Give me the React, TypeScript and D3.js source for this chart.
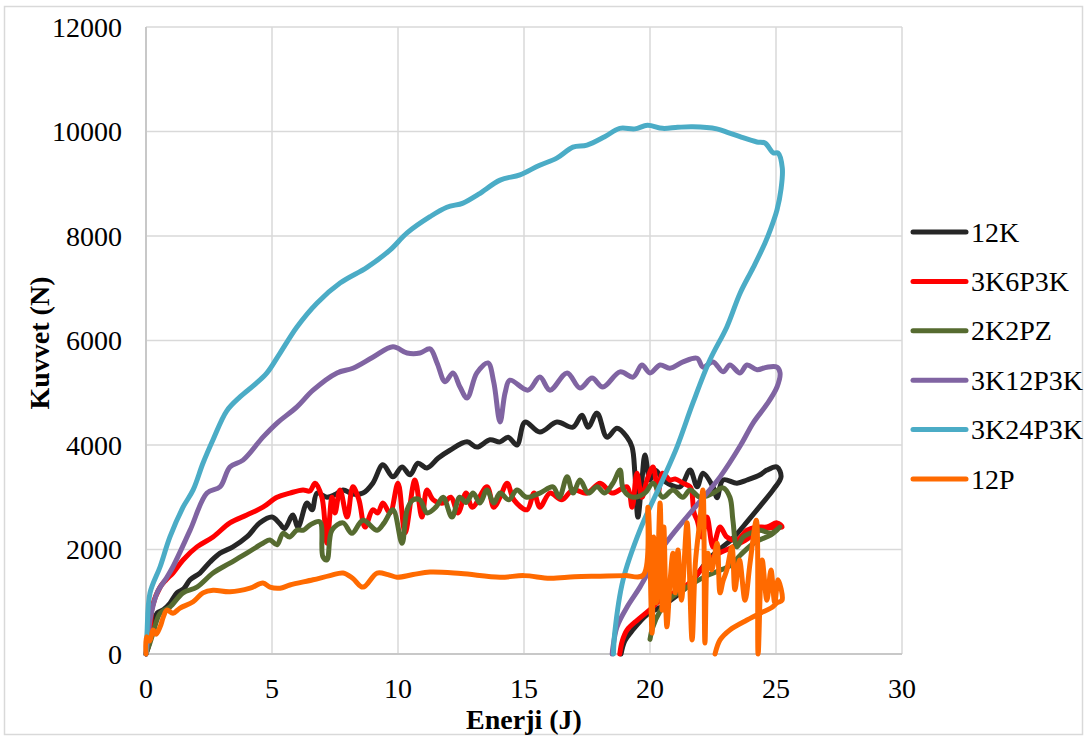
import React from "react";
import * as d3 from "d3";

type P = [number, number];

const X_TICKS = [0, 5, 10, 15, 20, 25, 30];
const Y_TICKS = [0, 2000, 4000, 6000, 8000, 10000, 12000];
const SERIES_NAMES = ["12K", "3K6P3K", "2K2PZ", "3K12P3K", "3K24P3K", "12P"];
const SERIES_COLORS = ["#262626", "#ff0000", "#566b30", "#8064a2", "#4bacc6", "#ff6a00"];

const s12K: P[] = [
  [0, 0], [0.1, 150], [0.3, 600], [0.44, 780], [0.7, 850], [0.95, 970], [1.23, 1170], [1.5, 1250], [1.75, 1420],
  [2.14, 1550], [2.54, 1760], [2.94, 1930], [3.45, 2050], [4.0, 2240], [4.52, 2510], [5.0, 2620], [5.3, 2500],
  [5.5, 2400], [5.83, 2660], [6.03, 2430], [6.39, 2890], [6.59, 2760], [6.79, 3080], [7.18, 3000], [7.5, 3050],
  [7.82, 3140], [8.2, 3060], [8.61, 3080], [9.0, 3270], [9.4, 3620], [9.8, 3390], [10.16, 3580], [10.48, 3430],
  [10.79, 3650], [11.15, 3560], [11.6, 3750], [12.06, 3900], [12.74, 4060], [13.13, 3960], [13.65, 4100],
  [14.05, 4060], [14.37, 4150], [14.72, 4000], [15.04, 4440], [15.63, 4250], [16.31, 4440], [16.94, 4340],
  [17.3, 4570], [17.54, 4340], [17.9, 4610], [18.29, 4150], [18.69, 4320], [19.09, 4150], [19.29, 3960],
  [19.4, 3460], [19.52, 2620], [19.68, 3330], [19.8, 3810], [20.0, 3330], [20.2, 3520], [20.6, 3300],
  [21.19, 3200], [21.59, 3520], [21.87, 3200], [22.1, 3460], [22.5, 3200], [22.66, 2990], [22.9, 3330],
  [23.45, 3270], [23.85, 3330], [24.37, 3430], [24.64, 3520], [25.04, 3580], [25.2, 3390],
  [24.9, 3150], [24.4, 2850], [23.8, 2500], [23.3, 2220], [22.4, 1850], [21.5, 1300], [20.5, 920],
  [19.9, 760], [19.3, 450], [19.0, 250], [18.85, 0],
];

const s3K6P3K: P[] = [
  [0, 0], [0.1, 300], [0.16, 400], [0.25, 900], [0.56, 1280], [0.8, 1420], [1.07, 1550], [1.47, 1800],
  [2.02, 2050], [2.66, 2240], [3.33, 2510], [4.0, 2660], [4.64, 2810], [5.2, 3000], [5.71, 3080], [6.23, 3140],
  [6.5, 3120], [6.71, 3270], [6.98, 3000], [7.18, 2120], [7.38, 3000], [7.5, 2700], [7.7, 3140], [7.98, 2620],
  [8.21, 3200], [8.45, 2950], [8.69, 2430], [9.0, 2760], [9.2, 2700], [9.4, 2890], [9.68, 2700], [10.0, 3270],
  [10.28, 2320], [10.67, 3330], [10.95, 2620], [11.15, 3140], [11.4, 2950], [11.79, 2890], [12.1, 3000],
  [12.38, 2700], [12.7, 3080], [12.95, 2810], [13.53, 3200], [13.8, 2810], [14.05, 3000], [14.33, 3270],
  [14.6, 2950], [15.12, 2760], [15.4, 3080], [15.63, 2810], [16.03, 3080], [16.5, 2950], [16.94, 3140],
  [17.5, 3080], [18.02, 3270], [18.5, 3080], [19.09, 3200], [19.29, 2810], [19.48, 3460], [19.68, 3000],
  [19.88, 3330], [20.12, 3580], [20.32, 3080], [20.5, 3460], [20.79, 3330], [21.0, 3350], [21.31, 3270],
  [21.59, 3200], [21.65, 3140], [21.75, 2700], [21.87, 2560], [22.06, 2240], [22.26, 2620], [22.5, 2050],
  [22.78, 2430], [23.05, 2240], [23.45, 2180], [23.85, 2370], [24.25, 2430], [24.64, 2430], [25.04, 2510],
  [25.24, 2430],
  [24.9, 2420], [24.37, 2380], [23.85, 2200], [23.29, 2050], [22.5, 1860], [21.47, 1320], [20.4, 1030],
  [20.0, 850], [19.5, 650], [19.09, 460], [18.9, 250], [18.8, 0],
];

const s2K2PZ: P[] = [
  [0, 0], [0.15, 200], [0.28, 400], [0.56, 780], [0.95, 900], [1.47, 1170], [2.02, 1280], [2.66, 1550],
  [3.33, 1740], [4.0, 1930], [4.64, 2120], [4.92, 2180], [5.2, 2090], [5.44, 2310], [5.7, 2240], [5.99, 2370],
  [6.25, 2370], [6.51, 2470], [6.9, 2530], [7.02, 1860], [7.18, 1800], [7.38, 2370], [7.82, 2510], [8.17, 2310],
  [8.61, 2560], [9.17, 2370], [9.45, 2510], [9.8, 2760], [10.16, 2120], [10.36, 2760], [10.6, 2950],
  [10.87, 2950], [11.15, 2700], [11.5, 2810], [11.79, 3000], [12.14, 2620], [12.45, 3000], [12.7, 2900],
  [12.98, 3080], [13.25, 2890], [13.53, 3140], [13.8, 2890], [14.05, 3080], [14.4, 2950], [14.72, 3140],
  [15.1, 3000], [15.63, 3080], [16.15, 3200], [16.4, 3000], [16.71, 3390], [16.95, 3080], [17.22, 3330],
  [17.55, 3080], [17.9, 3200], [18.2, 3080], [18.53, 3270], [18.81, 3520], [18.95, 3140], [19.33, 3000],
  [19.8, 3080], [20.12, 3270], [20.5, 3000], [20.91, 3140], [21.3, 3000], [21.59, 3140], [21.98, 3000],
  [22.5, 3080], [22.9, 3180], [23.17, 3000], [23.29, 2560], [23.45, 2050], [23.7, 2240], [23.97, 2310],
  [24.37, 2370], [24.8, 2310], [25.16, 2430],
  [24.8, 2280], [24.2, 2150], [23.6, 1900], [23.2, 1700], [22.66, 1580], [22.26, 1500], [21.47, 1280],
  [20.8, 1060], [20.4, 820], [20.1, 500], [20.0, 280],
];

const s3K12P3K: P[] = [
  [0, 0], [0.08, 300], [0.16, 650], [0.44, 1170], [0.83, 1470], [1.07, 1670], [1.75, 2370], [2.42, 3080],
  [2.94, 3200], [3.33, 3580], [3.85, 3710], [4.64, 4150], [5.2, 4420], [5.99, 4730], [6.63, 5050],
  [7.58, 5380], [8.21, 5470], [9.0, 5680], [9.8, 5880], [10.36, 5760], [10.87, 5760], [11.27, 5840],
  [11.55, 5570], [11.87, 5210], [12.18, 5380], [12.46, 5110], [12.74, 4900], [13.13, 5380], [13.57, 5570],
  [13.8, 5200], [14.05, 4440], [14.25, 5000], [14.44, 5240], [15.16, 5050], [15.63, 5300], [16.03, 5050],
  [16.71, 5380], [17.22, 5090], [17.7, 5280], [18.13, 5110], [18.81, 5400], [19.33, 5300], [19.68, 5530],
  [20.0, 5380], [20.4, 5530], [20.79, 5470], [21.31, 5590], [21.87, 5660], [22.1, 5490], [22.5, 5590],
  [22.9, 5400], [23.17, 5530], [23.57, 5380], [23.85, 5530], [24.25, 5440], [24.64, 5490], [25.04, 5490],
  [25.16, 5380],
  [25.04, 5110], [24.64, 4780], [24.09, 4420], [23.6, 4000], [22.78, 3390], [21.7, 2760], [20.52, 2050],
  [19.6, 1280], [19.09, 900], [18.69, 520], [18.53, 130], [18.5, 0],
];

const s3K24P3K: P[] = [
  [0, 0], [0.04, 400], [0.16, 1170], [0.56, 1670], [0.95, 2240], [1.47, 2810], [1.87, 3140], [2.26, 3650],
  [2.66, 4100], [3.2, 4650], [3.73, 4920], [4.3, 5150], [4.8, 5380], [5.32, 5760], [5.99, 6260], [6.79, 6720],
  [7.7, 7100], [8.77, 7400], [9.68, 7730], [10.36, 8060], [11.27, 8370], [11.94, 8550], [12.58, 8630],
  [13.2, 8800], [14.05, 9070], [14.84, 9170], [15.6, 9350], [16.3, 9490], [16.94, 9700], [17.5, 9740],
  [18.2, 9900], [18.8, 10060], [19.4, 10050], [19.9, 10120], [20.5, 10060], [21.1, 10080], [21.7, 10090],
  [22.65, 10050], [23.1, 9980], [23.57, 9900], [24.24, 9800], [24.56, 9780], [24.9, 9590], [25.08, 9590],
  [25.25, 9300],
  [25.2, 8900], [25.04, 8500], [24.8, 8150], [24.56, 7860], [24.1, 7400], [23.57, 6900], [23.05, 6260],
  [22.38, 5630], [21.7, 4800], [21.07, 3960], [20.5, 3330], [19.6, 2370], [18.93, 1416], [18.6, 400],
  [18.55, 0],
];

const s12P: P[] = [
  [0, 0], [0.02, 330], [0.15, 250], [0.28, 460], [0.4, 380], [0.56, 520], [0.69, 710], [0.83, 840],
  [1.07, 780], [1.35, 880], [1.87, 1000], [2.26, 1170], [2.66, 1220], [3.33, 1190], [4.13, 1260],
  [4.64, 1360], [4.92, 1280], [5.32, 1260], [5.71, 1320], [6.63, 1420], [7.3, 1500], [7.82, 1550],
  [8.2, 1450], [8.61, 1280], [9.17, 1550], [9.6, 1520], [9.96, 1470], [10.6, 1520], [11.27, 1570],
  [12.5, 1540], [14.05, 1470], [15.0, 1500], [16.03, 1450], [17.0, 1480], [18.02, 1490], [19.0, 1500],
  [19.73, 1510],
  [19.92, 2810], [20.08, 400], [20.15, 2240], [20.25, 980], [20.4, 2890], [20.48, 840], [20.55, 2430],
  [20.67, 520], [20.8, 1420], [20.91, 1930], [21.0, 1170], [21.11, 1990], [21.25, 1030], [21.47, 2510],
  [21.67, 270], [21.8, 1740], [21.98, 2560], [22.1, 3140], [22.18, 210], [22.3, 1930], [22.45, 1610],
  [22.66, 2120], [22.78, 1170], [22.9, 1400], [23.05, 1610], [23.25, 2050], [23.37, 1230], [23.55, 1800],
  [23.77, 1030], [23.97, 1740], [24.22, 2560], [24.29, 0], [24.45, 1800], [24.64, 1030], [24.8, 1610],
  [24.95, 980], [25.08, 1420], [25.24, 1030],
  [25.05, 980], [24.8, 880], [24.37, 780], [23.85, 650], [23.17, 460], [22.78, 270], [22.58, 0],
];

const SERIES_DATA: P[][] = [s12K, s3K6P3K, s2K2PZ, s3K12P3K, s3K24P3K, s12P];

const W = 1086;
const H = 738;
const FONT = "'Liberation Serif', 'Times New Roman', serif";

export default function App() {
  const x = d3.scaleLinear().domain([0, 30]).range([146, 902]);
  const y = d3.scaleLinear().domain([0, 12000]).range([654, 27]);
  const line = d3
    .line<P>()
    .x((d) => x(d[0]))
    .y((d) => y(d[1]))
    .curve(d3.curveCatmullRom.alpha(0.5));

  const legendY = (i: number) => 232 + i * 49.4;

  return (
    <svg width={W} height={H} style={{ position: "absolute", left: 0, top: 0, background: "#fff" }}>
      <rect x={0} y={0} width={W} height={H} fill="#fff" />
      <rect x={4.5} y={6.5} width={W - 8} height={H - 10} fill="none" stroke="#d9d9d9" strokeWidth={1.5} />
      {Y_TICKS.map((t) => (
        <line key={"gy" + t} x1={x(0)} x2={x(30)} y1={y(t)} y2={y(t)} stroke="#d9d9d9" strokeWidth={1.5} />
      ))}
      {X_TICKS.map((t) => (
        <line key={"gx" + t} x1={x(t)} x2={x(t)} y1={y(0)} y2={y(12000)} stroke="#d9d9d9" strokeWidth={1.5} />
      ))}
      <line x1={x(0)} x2={x(30)} y1={y(0)} y2={y(0)} stroke="#c8c8c8" strokeWidth={2} />
      <line x1={x(0)} x2={x(0)} y1={y(0)} y2={y(12000)} stroke="#c8c8c8" strokeWidth={2} />
      {Y_TICKS.map((t) => (
        <text key={"ly" + t} x={122} y={y(t) + 9.5} textAnchor="end" fontFamily={FONT} fontSize={28} fill="#000">
          {t}
        </text>
      ))}
      {X_TICKS.map((t) => (
        <text key={"lx" + t} x={x(t)} y={698} textAnchor="middle" fontFamily={FONT} fontSize={28} fill="#000">
          {t}
        </text>
      ))}
      <text x={524} y={729} textAnchor="middle" fontFamily={FONT} fontSize={28} fontWeight="bold" fill="#000">
        Enerji (J)
      </text>
      <text
        transform={`translate(49,343) rotate(-90)`}
        textAnchor="middle"
        fontFamily={FONT}
        fontSize={28}
        fontWeight="bold"
        fill="#000"
      >
        Kuvvet (N)
      </text>
      <g>
        {SERIES_DATA.map((d, i) => (
          <path
            key={SERIES_NAMES[i]}
            d={line(d) || ""}
            fill="none"
            stroke={SERIES_COLORS[i]}
            strokeWidth={5}
            strokeLinejoin="round"
            strokeLinecap="round"
          />
        ))}
      </g>
      {SERIES_NAMES.map((n, i) => (
        <g key={"lg" + n}>
          <line
            x1={913}
            x2={966}
            y1={legendY(i)}
            y2={legendY(i)}
            stroke={SERIES_COLORS[i]}
            strokeWidth={5}
            strokeLinecap="round"
          />
          <text x={971} y={legendY(i) + 9.5} fontFamily={FONT} fontSize={28} fill="#000">
            {n}
          </text>
        </g>
      ))}
    </svg>
  );
}
